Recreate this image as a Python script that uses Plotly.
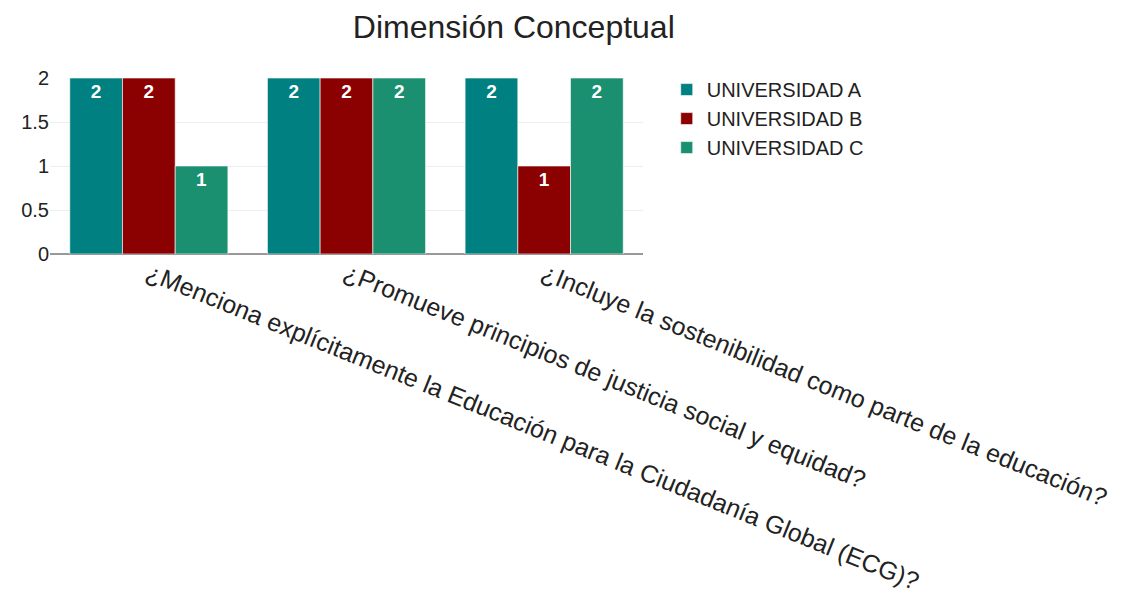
import plotly.graph_objects as go

categories = [
    "¿Menciona explícitamente la Educación para la Ciudadanía Global (ECG)?",
    "¿Promueve principios de justicia social y equidad?",
    "¿Incluye la sostenibilidad como parte de la educación?",
]
series_names = ["UNIVERSIDAD A", "UNIVERSIDAD B", "UNIVERSIDAD C"]
uni_a = [2, 2, 2]
uni_b = [2, 2, 1]
uni_c = [1, 2, 2]
colors = ["#008080", "#8B0000", "#1A9070"]

fig = go.Figure()
for name, vals, col in zip(series_names, [uni_a, uni_b, uni_c], colors):
    fig.add_trace(go.Bar(
        x=categories, y=vals, name=name,
        marker=dict(color=col, line=dict(color="rgba(255,255,255,0.6)", width=1)),
        text=vals, texttemplate="<b>%{text}</b>",
        textposition="inside", insidetextanchor="end",
        textfont=dict(color="white", size=19, family="Liberation Sans"),
    ))

fig.update_layout(
    title=dict(text="Dimensión Conceptual", x=0.45, xanchor="center", y=0.968,
               yanchor="middle",
               font=dict(size=32, color="#222", family="Liberation Sans")),
    barmode="group", bargap=0.2, bargroupgap=0,
    width=1124, height=599,
    margin=dict(l=42, r=489, t=70, b=353, autoexpand=False),
    plot_bgcolor="white", paper_bgcolor="white",
    font=dict(family="Liberation Sans", color="#222"),
    legend=dict(x=1.04, y=1.045, xanchor="left", yanchor="top",
                font=dict(size=20, color="#222")),
    showlegend=True,
)
fig.update_xaxes(tickangle=22, tickfont=dict(size=25, color="#222"), showgrid=False,
                 showline=False, ticks="", automargin=False)
fig.update_yaxes(range=[0, 2], tickvals=[0, 0.5, 1, 1.5, 2], ticktext=["0", "0.5", "1", "1.5", "2"],
                 tickfont=dict(size=20, color="#222"), gridcolor="#eeeeee", zeroline=True,
                 zerolinecolor="#999999", zerolinewidth=2, showline=False, automargin=False)

fig.write_html("out.html")
